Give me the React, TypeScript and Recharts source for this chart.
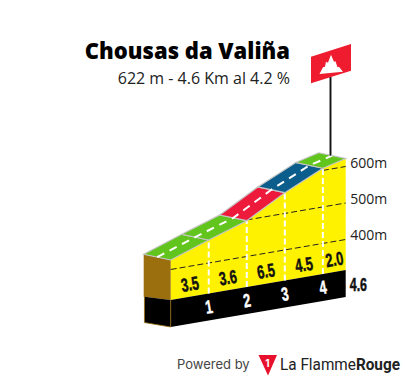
import React from "react";
import { ComposedChart, Area, Scatter, XAxis, YAxis } from "recharts";

// profile
const kmPoints = [0, 1, 2, 3, 4, 4.6];
const elevations = [426, 463, 498, 557, 606, 622];
const segmentColors = ["#62c51e", "#62c51e", "#ed1a3b", "#0b5e8c", "#62c51e"];
const gradients = ["3.5", "3.6", "6.5", "4.5", "2.0"];
const gradientKm = [0.5, 1.5, 2.5, 3.5, 4.3];
const kmMarks = [1, 2, 3, 4];
const elevationTicks = [400, 500, 600];
const totalKm = "4.6";

// oblique projection, in axis units
const SKEW = 17.87; // the base climbs this many units per km
const BASE = 316.5;
const BAND = 74;
const DEPTH_KM = 0.71;
const DEPTH_UP = 15.6;
const PX = 0.365; // px per y unit

const lift = (e: number, km: number) => e + SKEW * km;
const topAt = (i: number) => lift(elevations[i], kmPoints[i]);
const baseAt = (km: number) => lift(BASE, km);
const elevationAt = (km: number) => elevations[kmPoints.indexOf(km)];
const lengthTick = baseAt(4.6) - BAND / 2;

const tableData = kmPoints.map((km, i) => ({
  x: km,
  wall: [baseAt(km), topAt(i)],
  band: [baseAt(km) - BAND, baseAt(km)],
}));

const none = () => <g />;

const polygon = (
  key: string,
  points: { x: number; y: number }[],
  fill: string,
  stroke = "none",
  strokeWidth = 1,
  dash?: string,
) => (
  <Scatter
    key={key}
    data={points}
    isAnimationActive={false}
    shape={none}
    line={{ fill, stroke, strokeWidth, strokeDasharray: dash }}
  />
);

const FlagShape = (props: any) => {
  const { cx, cy } = props;
  const pt = (list: number[][]) => list.map((p) => `${cx + p[0]},${cy + p[1]}`).join(" ");
  return (
    <g>
      <line x1={cx} x2={cx} y1={cy + 79} y2={cy} stroke="#c9c9c9" strokeWidth={3} />
      <line x1={cx} x2={cx} y1={cy + 79} y2={cy} stroke="#111" strokeWidth={1.6} />
      <polygon points={pt([[-19.5, -20], [20.5, -32.7], [20.5, -6], [-19.5, 6.6]])} fill="#ee1c2e" />
      <polygon
        points={pt([[-11, -2.7], [-7.5, -9.5], [-5.5, -10], [-4.5, -15], [-2.5, -14], [0.5, -22], [3.5, -15], [5, -15.5], [7, -9.5], [8.5, -10], [12.5, -5]])}
        fill="#fff"
      />
    </g>
  );
};

const NARROW = "'Liberation Sans'";

const MarkText = (props: any) => {
  const { cx, cy, payload } = props;
  return (
    <text
      textAnchor="middle"
      dominantBaseline="central"
      transform={`translate(${cx} ${cy}) rotate(-9.7) scale(0.8 1.18)`}
      fontFamily={NARROW}
      fontWeight={700}
      fontSize={payload.size}
      fill={payload.color}
      stroke={payload.color}
      strokeWidth={0.4}
    >
      {payload.text}
    </text>
  );
};

const RightTick = (props: any) => {
  const { x, y, payload } = props;
  if (payload.value === lengthTick) {
    return (
      <text
        transform={`translate(${x - 4} ${y}) scale(0.78 1.2)`}
        dominantBaseline="central"
        fontFamily={NARROW}
        fontWeight={700}
        fontSize={16}
        fill="#111"
        stroke="#111"
        strokeWidth={0.4}
      >
        {totalKm}
      </text>
    );
  }
  return (
    <text x={x - 3.5} y={y - 4.5} dominantBaseline="central" fontFamily="'Open Sans'" fontSize={14} fill="#222">
      {`${Math.round(payload.value - SKEW * 4.6)}m`}
    </text>
  );
};

const App = () => {
  const last = kmPoints.length - 1;
  const roadBack = (km: number, v: number) => ({ x: km - DEPTH_KM, y: v + DEPTH_UP });

  const gradientMarks = gradients.map((text, i) => ({
    x: gradientKm[i],
    y: baseAt(gradientKm[i]) + 36,
    text,
    size: 16,
    color: "#111",
  }));
  const kmTexts = kmMarks.map((km) => ({
    x: km,
    y: baseAt(km) - 36,
    text: String(km),
    size: 16,
    color: "#fff",
  }));

  return (
    <div style={{ position: "absolute", left: 0, top: 0, width: 405, height: 381, background: "#fff" }}>
      <ComposedChart
        width={405}
        height={381}
        data={tableData}
        margin={{ top: 0, right: 0, bottom: 0, left: 0 }}
      >
        <XAxis dataKey="x" type="number" domain={[-4.487, 4.6]} hide />
        <YAxis
          dataKey="y"
          type="number"
          orientation="right"
          width={59.3}
          domain={[94.5, 1138.4]}
          ticks={[...elevationTicks.map((e) => lift(e, 4.6)), lengthTick]}
          interval={0}
          tick={<RightTick />}
          axisLine={false}
          tickLine={false}
        />

        {/* left end of the block */}
        {polygon(
          "side",
          [
            { x: 0, y: topAt(0) },
            { x: 0, y: BASE },
            { x: -DEPTH_KM, y: BASE + 9 },
            { x: -DEPTH_KM, y: topAt(0) + DEPTH_UP },
          ],
          "#9c6f0e",
        )}
        {polygon(
          "sideBand",
          [
            { x: 0, y: BASE },
            { x: 0, y: BASE - BAND },
            { x: -DEPTH_KM + 0.02, y: BASE - BAND + 12 },
            { x: -DEPTH_KM + 0.02, y: BASE + 9 },
          ],
          "#000",
          "#9c6f0e",
          0.8,
        )}

        <Area dataKey="wall" type="linear" fill="#fff200" fillOpacity={1} stroke="none" isAnimationActive={false} dot={false} activeDot={false} />
        <Area dataKey="band" type="linear" fill="#000" fillOpacity={1} stroke="none" isAnimationActive={false} dot={false} activeDot={false} />

        {/* elevation lines, from where they leave the road */}
        {elevationTicks.map((e) => {
          const from = e === 400 ? 0 : e === 500 ? 2 : 4;
          return polygon(
            `grid-${e}`,
            [
              { x: from, y: lift(e, from) },
              { x: 4.6, y: lift(e, 4.6) },
            ],
            "none",
            "#222",
            1,
            "6 3",
          );
        })}

        {/* km dividers */}
        {kmMarks.map((km) =>
          polygon(
            `km-${km}`,
            [
              { x: km, y: baseAt(km) },
              { x: km, y: lift(elevationAt(km), km) },
            ],
            "none",
            "#fff",
            2,
            "6 3",
          ),
        )}

        {/* road surface */}
        {segmentColors.map((color, i) => {
          const a = topAt(i);
          const b = topAt(i + 1);
          return polygon(
            `road-${i}`,
            [
              { x: kmPoints[i], y: a },
              { x: kmPoints[i + 1], y: b },
              roadBack(kmPoints[i + 1], b),
              roadBack(kmPoints[i], a),
              { x: kmPoints[i], y: a },
            ],
            color,
            "#c4c4c4",
            1.2,
          );
        })}
        {polygon(
          "centre",
          kmPoints.map((km, i) => ({ x: km - DEPTH_KM / 2, y: topAt(i) + DEPTH_UP / 2 })),
          "none",
          "#fff",
          2,
          "8 6",
        )}

        <Scatter data={gradientMarks} shape={<MarkText />} isAnimationActive={false} />
        <Scatter data={kmTexts} shape={<MarkText />} isAnimationActive={false} />
        <Scatter
          data={[{ x: kmPoints[last] - 0.4, y: topAt(last) + DEPTH_UP / 2 + 79 / PX }]}
          shape={<FlagShape />}
          isAnimationActive={false}
        />

        <text x={290} y={59} textAnchor="end" fontFamily="'Open Sans'" fontWeight={800} fontSize={22} fill="#000">
          Chousas da Valiña
        </text>
        <text x={290} y={84} textAnchor="end" fontFamily="'Open Sans'" fontSize={16} fill="#222">
          622 m - 4.6 Km al 4.2 %
        </text>

        <text x={177} y={369} fontFamily="Inter" fontSize={13} fill="#444">
          Powered by
        </text>
        <polygon points="258.5,355 277,355 268,375.5" fill="#e8112d" />
        <text x={267.5} y={367} textAnchor="middle" fontFamily="Inter" fontWeight={700} fontSize={10} fill="#fff">
          1
        </text>
        <text x={280} y={370} fontFamily="Roboto" fontSize={17} fill="#222" textLength={120} lengthAdjust="spacingAndGlyphs">
          La Flamme<tspan fontWeight={700}>Rouge</tspan>
        </text>
      </ComposedChart>
    </div>
  );
};

export default App;
